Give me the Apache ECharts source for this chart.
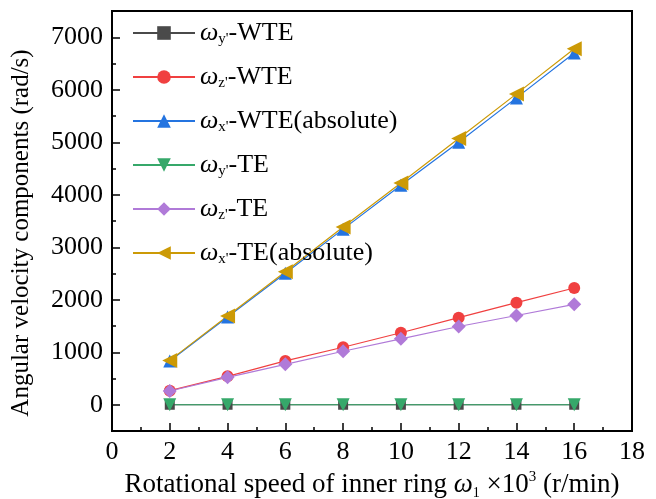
<!DOCTYPE html>
<html>
<head>
<meta charset="utf-8">
<script src="https://cdn.jsdelivr.net/npm/echarts@6/dist/echarts.min.js"></script>
<style>html,body{margin:0;padding:0;background:#fff}#c{width:656px;height:499px}</style>
</head>
<body>
<div id="c"></div>
<script>
var speeds = [2, 4, 6, 8, 10, 12, 14, 16];
var wyWTE = [0, 0, 0, 0, 0, 0, 0, 0];
var wzWTE = [268, 541, 835, 1096, 1371, 1658, 1945, 2224];
var wxWTE = [835, 1672, 2505, 3345, 4180, 5000, 5845, 6700];
var wyTE = [0, 0, 0, 0, 0, 0, 0, 0];
var wzTE = [262, 522, 770, 1019, 1256, 1491, 1700, 1912];
var wxTE = [845, 1690, 2535, 3385, 4225, 5070, 5921, 6780];
var xTicks = [0, 2, 4, 6, 8, 10, 12, 14, 16, 18];
var yTicks = [0, 1000, 2000, 3000, 4000, 5000, 6000, 7000];
var yMinorTicks = [-500, 500, 1500, 2500, 3500, 4500, 5500, 6500, 7500];

var FONT = 'Liberation Serif';
function pairs(vals) { return speeds.map(function (s, i) { return [s, vals[i]]; }); }

var legendLabels = {
  'wy-WTE': ['y\'', '-WTE'],
  'wz-WTE': ['z\'', '-WTE'],
  'wx-WTE': ['x\'', '-WTE(absolute)'],
  'wy-TE': ['y\'', '-TE'],
  'wz-TE': ['z\'', '-TE'],
  'wx-TE': ['x\'', '-TE(absolute)']
};

function mk(name, data, color, symbol, size, rotate) {
  return {
    name: name, type: 'line', data: pairs(data),
    symbol: symbol, symbolSize: size, symbolRotate: rotate || 0,
    lineStyle: { color: color, width: 1.2 },
    itemStyle: { color: color },
    color: color,
    emphasis: { disabled: true },
    animation: false
  };
}

var chart = echarts.init(document.getElementById('c'));
chart.setOption({
  animation: false,
  grid: { left: 112, right: 24, top: 11, bottom: 68, show: true, borderColor: '#000', borderWidth: 2, backgroundColor: 'transparent', containLabel: false, outerBoundsMode: 'none' },
  legend: {
    orient: 'vertical', left: 127, top: 15,
    itemWidth: 62, itemHeight: 17, itemGap: 17,
    data: ['wy-WTE', 'wz-WTE', 'wx-WTE', 'wy-TE', 'wz-TE', 'wx-TE'],
    formatter: function (n) { var l = legendLabels[n]; return '{w|ω}{s|' + l[0] + '}{n|' + l[1] + '}'; },
    textStyle: {
      fontFamily: FONT, color: '#000',
      rich: {
        w: { fontFamily: FONT, fontStyle: 'italic', fontSize: 26, lineHeight: 28, color: '#000' },
        s: { fontFamily: FONT, fontSize: 15, lineHeight: 16, verticalAlign: 'bottom', color: '#000' },
        n: { fontFamily: FONT, fontSize: 26, lineHeight: 28, color: '#000' }
      }
    }
  },
  xAxis: {
    type: 'value', min: 0, max: 18, interval: 2,
    name: '{t|Rotational speed of inner ring }{w|ω}{s|1}{t| ×10}{p|3}{t| (r/min)}',
    nameLocation: 'middle', nameGap: 35,
    nameTextStyle: {
      fontFamily: FONT, color: '#000',
      rich: {
        t: { fontFamily: FONT, fontSize: 27, lineHeight: 30, color: '#000' },
        w: { fontFamily: FONT, fontStyle: 'italic', fontSize: 27, lineHeight: 30, color: '#000' },
        s: { fontFamily: FONT, fontSize: 14, lineHeight: 14, verticalAlign: 'bottom', color: '#000' },
        p: { fontFamily: FONT, fontSize: 15, lineHeight: 14, verticalAlign: 'top', color: '#000' }
      }
    },
    axisLine: { onZero: false, lineStyle: { color: '#000', width: 2 } },
    axisTick: { inside: true, length: 8, lineStyle: { color: '#000', width: 1.5 } },
    minorTick: { show: true, splitNumber: 2, length: 4, lineStyle: { color: '#000', width: 1.5 } },
    splitLine: { show: false },
    axisLabel: { fontFamily: FONT, fontSize: 26, color: '#000', margin: 8, formatter: function (v) { return String(v); } }
  },
  yAxis: [{
    type: 'value', min: -500, max: 7500,
    axisLabel: { customValues: yTicks, fontFamily: FONT, fontSize: 26, color: '#000', margin: 9, formatter: function (v) { return String(v); } },
    axisTick: { customValues: yTicks, inside: true, length: 8, lineStyle: { color: '#000', width: 1.5 } },
    axisLine: { onZero: false, lineStyle: { color: '#000', width: 2 } },
    splitLine: { show: false },
    name: 'Angular velocity components (rad/s)',
    nameLocation: 'middle', nameGap: 78, nameRotate: 90,
    nameTextStyle: { fontFamily: FONT, fontSize: 25, color: '#000', padding: [0, 24, 0, 0] }
  }, {
    type: 'value', min: -500, max: 7500, position: 'left',
    axisLabel: { show: false },
    axisTick: { customValues: yMinorTicks, inside: true, length: 4, lineStyle: { color: '#000', width: 1.5 } },
    axisLine: { show: false },
    splitLine: { show: false }
  }],
  series: [
    mk('wy-WTE', wyWTE, '#4a4a4a', 'rect', 10),
    mk('wz-WTE', wzWTE, '#f04040', 'circle', 12),
    mk('wx-WTE', wxWTE, '#2474e0', 'triangle', 13),
    mk('wy-TE', wyTE, '#36a86a', 'triangle', 13, 180),
    mk('wz-TE', wzTE, '#b07ad8', 'diamond', 14),
    mk('wx-TE', wxTE, '#cc9a06', 'triangle', 15, 90)
  ]
});
</script>
</body>
</html>
